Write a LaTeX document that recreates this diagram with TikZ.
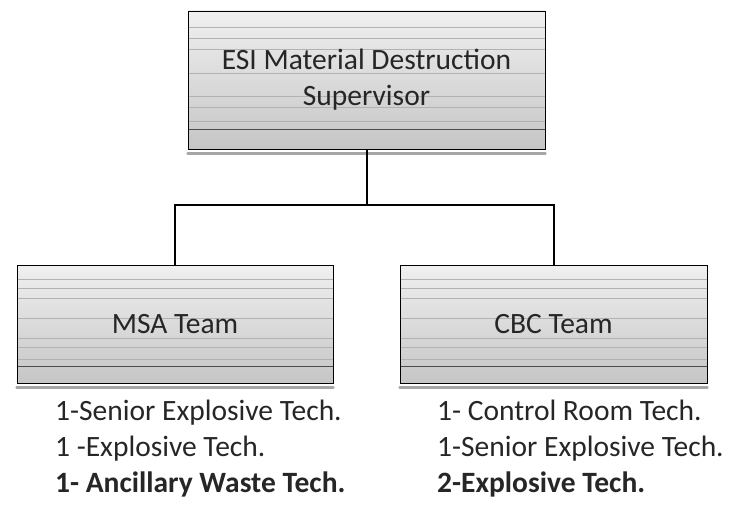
\documentclass[tikz,border=0pt]{standalone}
\usepackage{fontspec}
\setmainfont{Carlito}
\usepackage{tikz}
\usetikzlibrary{positioning, calc}

\begin{document}
\begin{tikzpicture}[x=1pt, y=-1pt,
    unit/.style={rectangle, draw=black, line width=0.9pt, top color=gray!12, bottom color=gray!45,
                 minimum width=#1, minimum height=118pt, align=center, text=black!85,
                 font=\fontsize{29.5}{36}\selectfont,
                 path picture={
                   \foreach \s in {0.12,0.2,0.28,0.45,0.62,0.7,0.8}
                     \draw[gray!60, line width=0.4pt]
                       ($(path picture bounding box.north west)!\s!(path picture bounding box.south west)$) --
                       ($(path picture bounding box.north east)!\s!(path picture bounding box.south east)$);
                   \draw[black!70, line width=0.6pt]
                       ($(path picture bounding box.north west)!0.86!(path picture bounding box.south west)$) --
                       ($(path picture bounding box.north east)!0.86!(path picture bounding box.south east)$);
                 }},
    link/.style={line width=2pt, black},
    staff/.style={align=left, anchor=north west, inner sep=0pt, text=black!85,
                  font=\fontsize{29.5}{36}\selectfont}
  ]
  \useasboundingbox (0,0) rectangle (738,508);
  \node[unit=357pt, minimum height=138pt] (sup) at (366.5,80) {ESI Material Destruction\\Supervisor};
  \node[unit=316pt] (msa) at (175,324) {MSA Team};
  \node[unit=307pt] (cbc) at (553.5,324) {CBC Team};
  % bottom bars under the boxes
  \foreach \b in {sup, msa, cbc}
    \draw[gray!70, line width=2.5pt, line cap=round] ([yshift=-4pt]\b.south west) -- ([yshift=-4pt]\b.south east);
  \coordinate (split) at (366.5,205);
  \draw[link] (sup.south) -- (split);
  \draw[link] (msa.north) |- (split) -| (cbc.north);
  \node[staff] (msalist) at (55,400) {1-Senior Explosive Tech.\\1 -Explosive Tech.\\\textbf{1- Ancillary Waste Tech.}};
  \node[staff] (cbclist) at (437,400) {1- Control Room Tech.\\1-Senior Explosive Tech.\\\textbf{2-Explosive Tech.}};
\end{tikzpicture}
\end{document}
